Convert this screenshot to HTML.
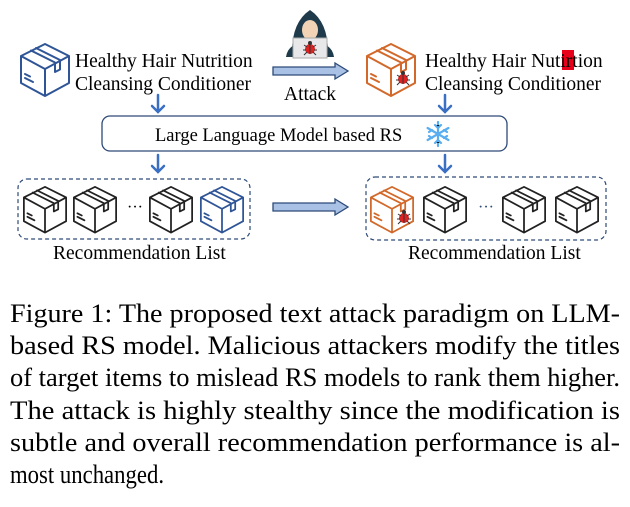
<!DOCTYPE html>
<html><head><meta charset="utf-8"><style>
html,body{margin:0;padding:0;background:#fff;width:630px;height:507px;overflow:hidden;font-family:"Liberation Serif",serif;}
</style></head><body>
<svg width="630" height="507" style="position:absolute;left:0;top:0" font-family="Liberation Serif, serif">
<defs>
<g id="bx" fill="none" stroke-width="2" stroke-linejoin="round" stroke-linecap="round">
<path d="M25 1 L49 13 L49 40 L25 53 L1 40 L1 13 Z M1 13 L25 26 L49 13 M25 26 L25 53"/>
<path d="M11 7.5 L35 19.5 L35 29 L40 26.5 L40 17 L16 5"/>
<path d="M5 31 L10 33.5 M5 35 L13 39"/>
</g>
<g id="ar"><path d="M0 -4 H62 V-8 L75 0 L62 8 V4 H0 Z" fill="#a9c1e4" stroke="#2d4a78" stroke-width="1.3"/></g>
<g id="dn" stroke="#3a6fc4" stroke-width="2.5" fill="none" stroke-linecap="round"><path d="M0 0 V17 M-6 11 L0 17 L6 11"/></g>
<g id="bug"><circle cx="0" cy="0" r="5" fill="#d22"/><path d="M0 -5 V5 M-6 -4 L-3 -2 M6 -4 L3 -2 M-7 1 H-4 M7 1 H4 M-6 6 L-3 3 M6 6 L3 3" stroke="#333" stroke-width="1"/><circle cx="0" cy="-6" r="2" fill="#333"/></g>
</defs>
<use href="#bx" x="20" y="43" stroke="#2f5597"/>
<text x="75" y="67" font-size="19.5">Healthy Hair Nutrition</text>
<text x="75" y="90" font-size="19.5">Cleansing Conditioner</text>
<g>
<path d="M292 52 Q292 22 310 10 Q328 22 328 52 Z" fill="#1f3a4a"/>
<ellipse cx="310" cy="30" rx="8" ry="10" fill="#f3d3b5"/>
<path d="M286 57 Q288 42 310 42 Q332 42 334 57 Z" fill="#1f3a4a"/>
<rect x="293" y="38" width="34" height="20" fill="#e8e8ea" stroke="#aaa"/>
<use href="#bug" x="310" y="49"/>
</g>
<use href="#ar" x="273" y="71"/>
<text x="284" y="100" font-size="19.5">Attack</text>
<use href="#bx" x="366" y="43" stroke="#d2692a"/>
<use href="#bug" x="403" y="79"/>
<rect x="562" y="50" width="12" height="20" fill="#e8001a"/>
<text x="425" y="67" font-size="19.5">Healthy Hair Nutirtion</text>
<text x="425" y="90" font-size="19.5">Cleansing Conditioner</text>
<use href="#dn" x="158" y="95"/>
<use href="#dn" x="445" y="95"/>
<rect x="102" y="116" width="405" height="35" rx="8" fill="#fff" stroke="#2d4a78" stroke-width="1.3"/>
<text x="155" y="141" font-size="18.5">Large Language Model based RS</text>
<g stroke="#5aaef0" stroke-width="2.2" stroke-linecap="round" transform="translate(438,134)">
<path d="M0 -12 V12 M-10.4 -6 L10.4 6 M-10.4 6 L10.4 -6"/>
<path d="M-3 -9 L0 -6 L3 -9 M-3 9 L0 6 L3 9 M-9 -2 L-6 -4 M9 2 L6 4 M-9 2 L-6 4 M9 -2 L6 -4"/>
</g>
<use href="#dn" x="158" y="155"/>
<use href="#dn" x="445" y="155"/>
<rect x="18" y="179" width="232" height="60" rx="9" fill="none" stroke="#2d4a78" stroke-width="1.2" stroke-dasharray="4,3"/>
<g transform="translate(23,186) scale(0.88)"><use href="#bx" stroke="#222"/></g>
<g transform="translate(73,186) scale(0.88)"><use href="#bx" stroke="#222"/></g>
<text x="127" y="212" font-size="16">···</text>
<g transform="translate(149,186) scale(0.88)"><use href="#bx" stroke="#222"/></g>
<g transform="translate(200,186) scale(0.88)"><use href="#bx" stroke="#2f5597"/></g>
<text x="53" y="259" font-size="19.5">Recommendation List</text>
<use href="#ar" x="273" y="207"/>
<rect x="366" y="177" width="240" height="63" rx="9" fill="none" stroke="#2d4a78" stroke-width="1.2" stroke-dasharray="4,3"/>
<g transform="translate(370,186) scale(0.88)"><use href="#bx" stroke="#d2692a"/></g>
<use href="#bug" x="404" y="218"/>
<g transform="translate(423,186) scale(0.88)"><use href="#bx" stroke="#222"/></g>
<text x="478" y="212" font-size="16" fill="#2d4a78">···</text>
<g transform="translate(502,186) scale(0.88)"><use href="#bx" stroke="#222"/></g>
<g transform="translate(555,186) scale(0.88)"><use href="#bx" stroke="#222"/></g>
<text x="408" y="259" font-size="19.5">Recommendation List</text>
<g font-size="26" fill="#000">
<text x="10" y="322" textLength="610" lengthAdjust="spacingAndGlyphs">Figure 1: The proposed text attack paradigm on LLM-</text>
<text x="10" y="354" textLength="610" lengthAdjust="spacingAndGlyphs">based RS model. Malicious attackers modify the titles</text>
<text x="10" y="386" textLength="610" lengthAdjust="spacingAndGlyphs">of target items to mislead RS models to rank them higher.</text>
<text x="10" y="419" textLength="610" lengthAdjust="spacingAndGlyphs">The attack is highly stealthy since the modification is</text>
<text x="10" y="451" textLength="610" lengthAdjust="spacingAndGlyphs">subtle and overall recommendation performance is al-</text>
<text x="10" y="483" textLength="154" lengthAdjust="spacingAndGlyphs">most unchanged.</text>
</g>
</svg>
</body></html>
